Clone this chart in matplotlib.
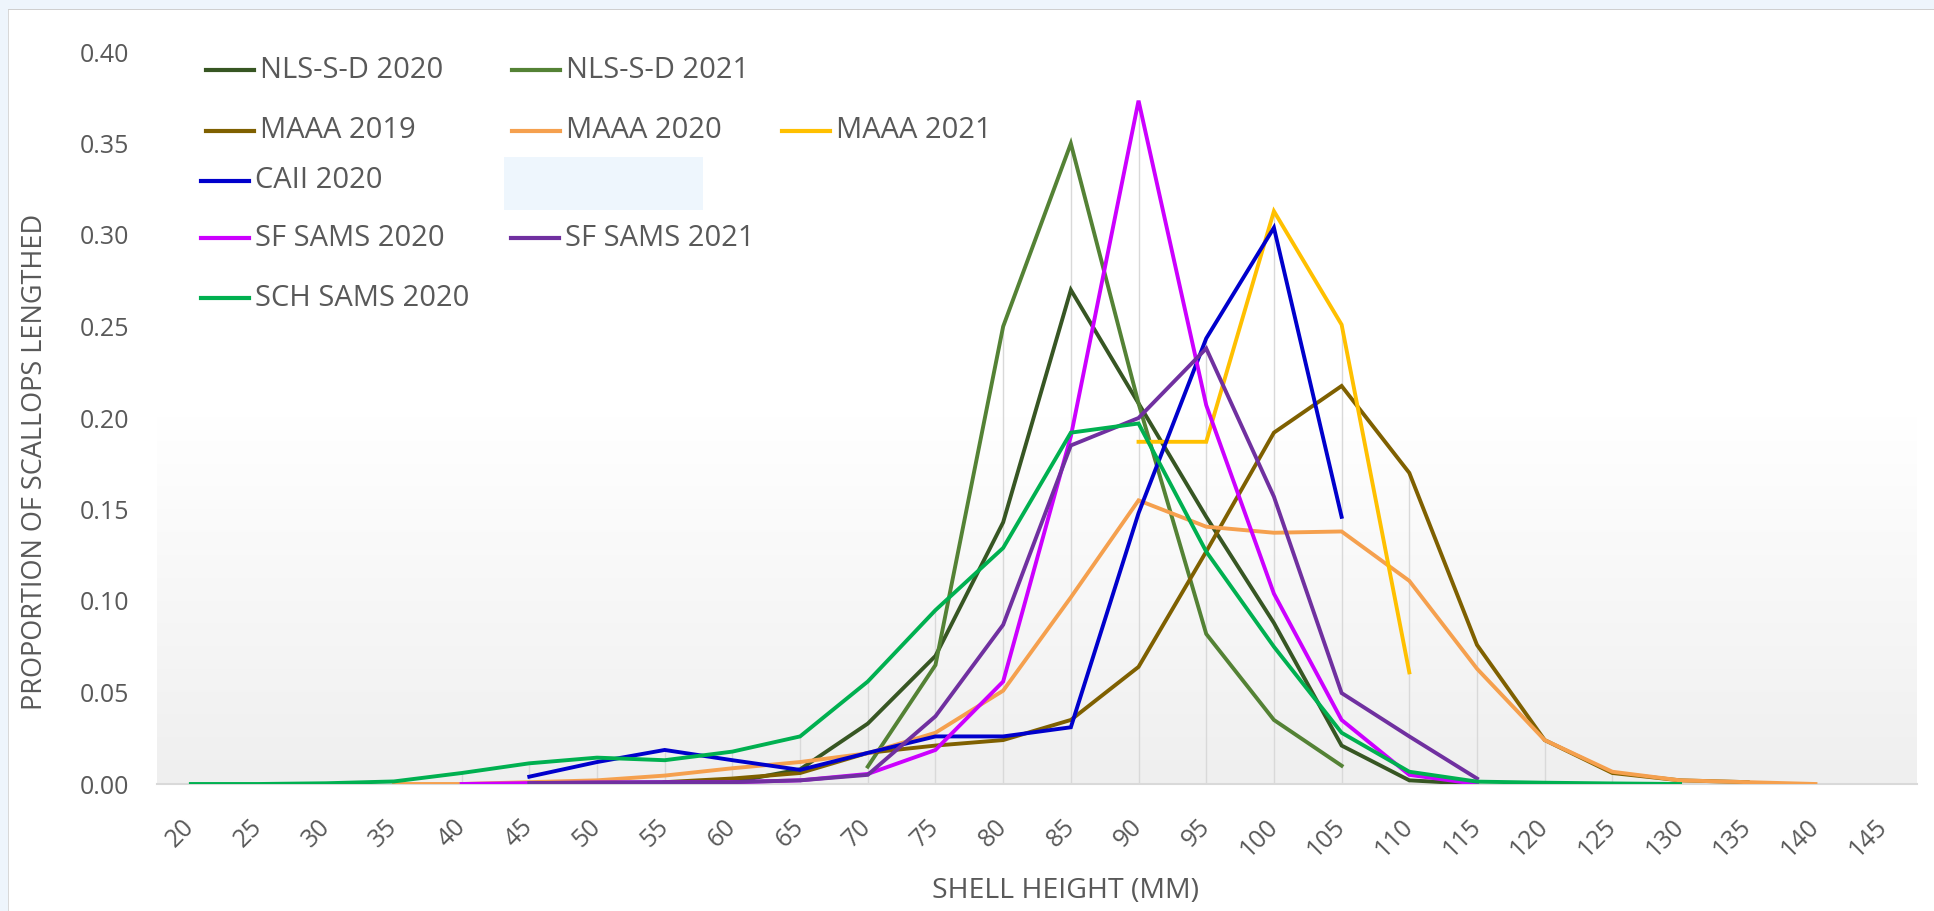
import numpy as np
import matplotlib
matplotlib.use("Agg")
import matplotlib.pyplot as plt
from matplotlib.colors import LinearSegmentedColormap
from matplotlib.lines import Line2D
from matplotlib.patches import Rectangle

plt.rcParams['font.family'] = ['Open Sans', 'DejaVu Sans']

# shell height categories (mm)
sizes = list(range(20, 150, 5))

def pad(start, vals):
    # place values on the category axis, nan where the series has no data
    out = [np.nan] * len(sizes)
    i0 = sizes.index(start)
    for k, v in enumerate(vals):
        out[i0 + k] = v
    return out

nls_2020 = pad(60, [0.001, 0.008, 0.033, 0.070, 0.143, 0.270, 0.208, 0.146, 0.088, 0.021, 0.002, 0.0])
nls_2021 = pad(70, [0.0095, 0.065, 0.250, 0.350, 0.208, 0.082, 0.035, 0.010])
maaa_2019 = pad(55, [0.001, 0.003, 0.006, 0.017, 0.021, 0.024, 0.035, 0.064, 0.127, 0.192, 0.2175,
                     0.170, 0.076, 0.024, 0.006, 0.002, 0.001])
maaa_2020 = pad(35, [0.0, 0.0, 0.001, 0.002, 0.0046, 0.0086, 0.012, 0.0168, 0.028, 0.051, 0.102, 0.155,
                     0.1406, 0.1373, 0.138, 0.111, 0.063, 0.024, 0.0067, 0.002, 0.001, 0.0])
maaa_2021 = pad(90, [0.187, 0.187, 0.313, 0.251, 0.061])
caii_2020 = pad(45, [0.004, 0.012, 0.0186, 0.013, 0.0077, 0.017, 0.026, 0.026, 0.031, 0.148, 0.2435,
                     0.304, 0.146])
sf_2020 = pad(40, [0.0, 0.0005, 0.0008, 0.001, 0.001, 0.002, 0.0055, 0.0186, 0.056, 0.190, 0.3734,
                   0.207, 0.104, 0.035, 0.005, 0.0])
sf_2021 = pad(45, [0.0005, 0.0008, 0.001, 0.001, 0.002, 0.005, 0.037, 0.087, 0.185, 0.200, 0.238,
                   0.157, 0.0497, 0.026, 0.003])
sch_2020 = pad(20, [0.0, 0.0, 0.0004, 0.0014, 0.006, 0.0113, 0.0144, 0.013, 0.0177, 0.026, 0.056,
                    0.095, 0.129, 0.192, 0.197, 0.127, 0.075, 0.028, 0.0067, 0.0013, 0.0007, 0.0003, 0.0])

names = ["NLS-S-D 2020", "NLS-S-D 2021", "MAAA 2019", "MAAA 2020", "MAAA 2021",
         "CAII 2020", "SF SAMS 2020", "SF SAMS 2021", "SCH SAMS 2020"]
series = [nls_2020, nls_2021, maaa_2019, maaa_2020, maaa_2021,
          caii_2020, sf_2020, sf_2021, sch_2020]
colors = ["#375623", "#548235", "#7F6000", "#F5A04E", "#FFC000",
          "#0000CC", "#CC00FF", "#7030A0", "#00B050"]

W, H = 1934, 911
fig = plt.figure(figsize=(W / 100, H / 100), dpi=100)

def fx(px):
    return px / W

def fy(py):
    return 1 - py / H

# window frame bits from the screenshot
fig.add_artist(Rectangle((0, fy(9)), 1, 9 / H, transform=fig.transFigure, color="#EEF5FC", lw=0))
fig.add_artist(Rectangle((0, fy(10)), 1, 1.2 / H, transform=fig.transFigure, color="#CFCFCF", lw=0))
fig.add_artist(Rectangle((0, 0), fx(8), 1, transform=fig.transFigure, color="#EEF5FC", lw=0))
fig.add_artist(Rectangle((fx(8), 0), 1.2 / W, fy(10), transform=fig.transFigure, color="#D8D8D8", lw=0))

ax = fig.add_axes([fx(157), fy(784), fx(1917) - fx(157), fy(52) - fy(784)])

# plot area gradient fill
cmap = LinearSegmentedColormap.from_list("bg", ["#FFFFFF", "#FFFFFF", "#EFEFEF"])
ax.imshow(np.linspace(0, 1, 256).reshape(-1, 1), cmap=cmap, extent=[0, 1, 0, 1],
          transform=ax.transAxes, aspect="auto", zorder=0)

# drop lines at each category up to the highest series value
tops = np.nanmax(np.array(series, dtype=float), axis=0)
ax.vlines(sizes, 0, tops, color="#D9D9D9", lw=1, zorder=1)

for vals, c in zip(series, colors):
    ax.plot(sizes, vals, color=c, lw=2.8, zorder=3, solid_joinstyle="miter")

ax.set_xlim(17.5, 147.5)
ax.set_ylim(0, 0.40)
ax.set_xticks(sizes)
ax.set_xticklabels([str(s) for s in sizes], rotation=45, ha="right", va="center",
                   rotation_mode="anchor", fontsize=18, color="#595959")
ax.set_yticks(np.arange(0, 0.401, 0.05))
ax.set_yticklabels(["%.2f" % v for v in np.arange(0, 0.401, 0.05)], fontsize=18, color="#595959")
ax.tick_params(axis="x", length=0, pad=28)
ax.tick_params(axis="y", length=0, pad=20)
for s in ["top", "right", "left"]:
    ax.spines[s].set_visible(False)
ax.spines["bottom"].set_color("#D9D9D9")
ax.spines["bottom"].set_linewidth(1.5)
ax.spines["bottom"].set_zorder(2)

fig.text(fx(35), fy(462), "PROPORTION OF SCALLOPS LENGTHED", rotation=90, ha="center",
         va="center", fontsize=19.5, color="#595959")
fig.text(fx(1065), fy(891), "SHELL HEIGHT (MM)", ha="center", va="center",
         fontsize=20.5, color="#595959")

# legend, laid out like the original
fig.add_artist(Rectangle((fx(504), fy(210)), fx(703) - fx(504), fy(157) - fy(210),
                         transform=fig.transFigure, color="#EEF6FD", lw=0))
leg_pos = [(206, 70), (512, 70),
           (206, 131), (512, 131), (782, 131),
           (201, 181),
           (201, 238), (511, 238),
           (201, 298)]
for (x0, y0), name, c in zip(leg_pos, names, colors):
    fig.add_artist(Line2D([fx(x0), fx(x0 + 48)], [fy(y0), fy(y0)], transform=fig.transFigure,
                          color=c, lw=3))
    fig.text(fx(x0 + 54), fy(y0), name, ha="left", va="center", fontsize=21, color="#595959")

fig.savefig("out.png", dpi=100)
